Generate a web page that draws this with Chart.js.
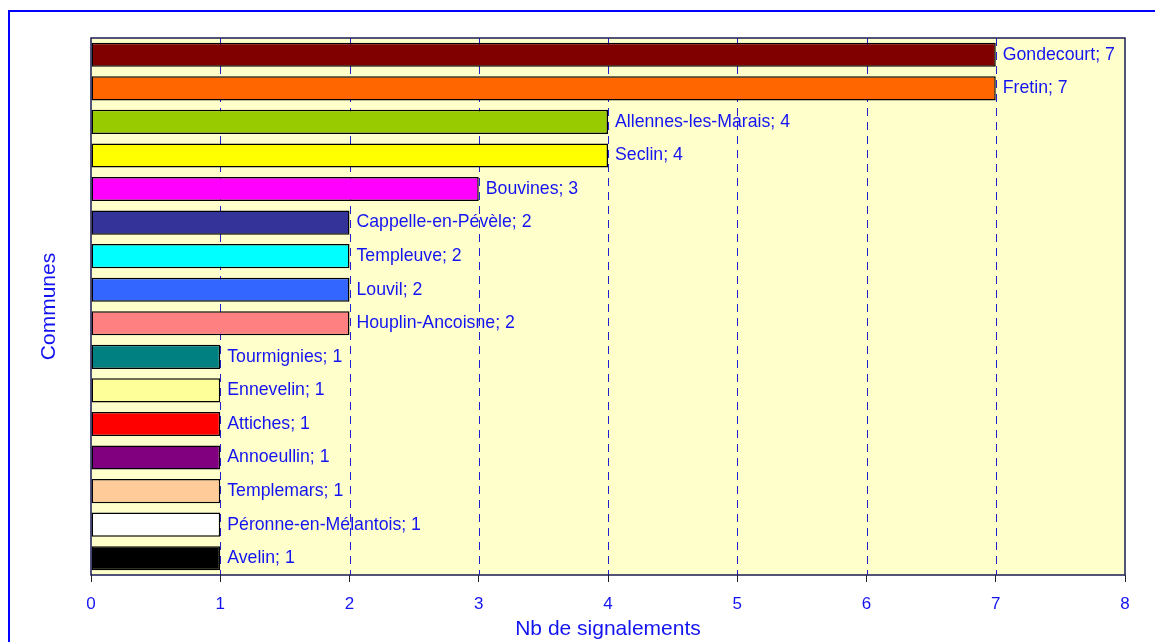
<!DOCTYPE html>
<html lang="fr">
<head>
<meta charset="utf-8"/>
<title>Nb de signalements par commune</title>
<script src="https://cdn.jsdelivr.net/npm/chart.js"></script>
<style>
    html, body { margin: 0; padding: 0; background: #ffffff; }
    .wrap { width: 1155px; height: 642px; position: relative; }
</style>
</head>
<body>
<div class="wrap"><canvas id="chart"></canvas></div>
<script>
    // données
    const communes = ['Gondecourt', 'Fretin', 'Allennes-les-Marais', 'Seclin', 'Bouvines',
        'Cappelle-en-Pévèle', 'Templeuve', 'Louvil', 'Houplin-Ancoisne', 'Tourmignies',
        'Ennevelin', 'Attiches', 'Annoeullin', 'Templemars', 'Péronne-en-Mélantois', 'Avelin'];
    const signalements = [7, 7, 4, 4, 3, 2, 2, 2, 2, 1, 1, 1, 1, 1, 1, 1];
    const couleurs = ['#800000', '#FF6600', '#99CC00', '#FFFF00', '#FF00FF',
        '#333399', '#00FFFF', '#3366FF', '#FF8080', '#008080',
        '#FFFF99', '#FF0000', '#800080', '#FFCC99', '#FFFFFF', '#000000'];
    const xTicks = [0, 1, 2, 3, 4, 5, 6, 7, 8];

    const bleu = '#1414f0';
    const police = '"Liberation Sans", Arial, sans-serif';

    // fond jaune, quadrillage pointillé, cadre et étiquettes
    const fondPlugin = {
        id: 'fond',
        beforeDatasetsDraw(chart) {
            const {ctx, chartArea: a, scales} = chart;
            ctx.save();
            ctx.fillStyle = '#FFFFCC';
            ctx.fillRect(a.left, a.top, a.right - a.left, a.bottom - a.top);
            ctx.strokeStyle = '#0000FF';
            ctx.lineWidth = 2;
            ctx.strokeRect(9, 11, 1300, 800);
            // lignes verticales pointillées
            ctx.strokeStyle = '#2020d0';
            ctx.lineWidth = 1;
            ctx.setLineDash([8, 6]);
            xTicks.slice(1, -1).forEach(v => {
                const x = Math.round(scales.x.getPixelForValue(v)) + 0.5;
                ctx.beginPath();
                ctx.moveTo(x, a.top);
                ctx.lineTo(x, a.bottom);
                ctx.stroke();
            });
            ctx.restore();
        },
        afterDatasetsDraw(chart) {
            const {ctx, chartArea: a} = chart;
            ctx.save();
            ctx.strokeStyle = '#1a1a55';
            ctx.lineWidth = 1.5;
            ctx.strokeRect(a.left, a.top, a.right - a.left, a.bottom - a.top);
            // étiquettes "Commune; n"
            const meta = chart.getDatasetMeta(0);
            ctx.fillStyle = bleu;
            ctx.font = '17.7px ' + police;
            ctx.textBaseline = 'middle';
            ctx.textAlign = 'left';
            meta.data.forEach((bar, i) => {
                ctx.fillText(communes[i] + '; ' + signalements[i], bar.x + 7, bar.y);
            });
            ctx.restore();
        }
    };

    new Chart(document.getElementById('chart'), {
        type: 'bar',
        data: {
            labels: communes,
            datasets: [{
                data: signalements,
                backgroundColor: couleurs,
                borderColor: '#000000',
                borderWidth: 1.5,
                borderSkipped: false,
                barPercentage: 0.72,
                categoryPercentage: 1
            }]
        },
        options: {
            indexAxis: 'y',
            responsive: true,
            maintainAspectRatio: false,
            animation: false,
            layout: { padding: { left: 0, right: 30, top: 38, bottom: 0 } },
            plugins: {
                legend: { display: false },
                tooltip: { enabled: false }
            },
            scales: {
                x: {
                    min: 0,
                    max: 8,
                    afterBuildTicks(scale) { scale.ticks = xTicks.map(v => ({value: v})); },
                    afterFit(scale) { scale.height = 67; },
                    grid: {
                        color: '#222222',
                        lineWidth: 1,
                        tickLength: 7,
                        drawOnChartArea: false
                    },
                    border: { display: false },
                    ticks: {
                        color: bleu,
                        font: { family: police, size: 17 },
                        padding: 12
                    },
                    title: {
                        display: true,
                        text: 'Nb de signalements',
                        color: bleu,
                        font: { family: police, size: 21 },
                        padding: { top: 0, bottom: 0 }
                    }
                },
                y: {
                    afterFit(scale) { scale.width = 91; },
                    grid: { display: false },
                    border: { display: false },
                    ticks: { display: false },
                    title: {
                        display: true,
                        text: 'Communes',
                        color: bleu,
                        font: { family: police, size: 21 },
                        padding: { top: 37, bottom: 0 }
                    }
                }
            }
        },
        plugins: [fondPlugin]
    });
</script>
</body>
</html>
